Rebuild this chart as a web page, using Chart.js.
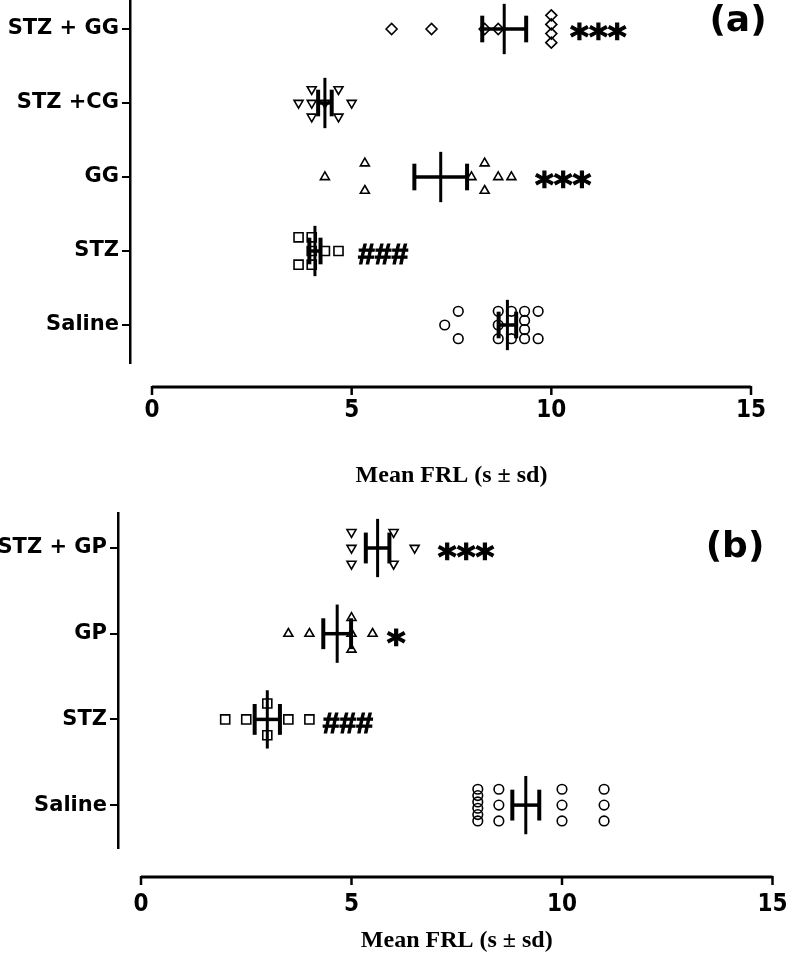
<!DOCTYPE html>
<html>
<head>
<meta charset="utf-8">
<script src="https://cdn.jsdelivr.net/npm/chart.js@4.4.1/dist/chart.umd.min.js"></script>
<style>
  html, body { margin: 0; padding: 0; background: #fff; }
  #wrap { position: relative; width: 788px; height: 959px; }
  .panel { position: absolute; left: 0; width: 788px; }
  #panelA { top: 0; height: 500px; }
  #panelB { top: 500px; height: 459px; }
</style>
</head>
<body>
<div id="wrap">
  <div class="panel" id="panelA"><canvas id="chartA"></canvas></div>
  <div class="panel" id="panelB"><canvas id="chartB"></canvas></div>
</div>
<script>
// ---- values (FRL in s) ----
const xTicks = [0, 5, 10, 15];

// panel (a), top to bottom
const catsA = ['STZ + GG', 'STZ +CG', 'GG', 'STZ', 'Saline'];
const stzGG = [6.0, 7.0, 8.33, 8.67, 10.0, 10.0, 10.0, 10.0];
const stzCG = [3.67, 4.0, 4.0, 4.0, 4.33, 4.67, 4.67, 5.0];
const ggA = [4.33, 5.33, 5.33, 8.0, 8.33, 8.33, 8.67, 9.0];
const stzA = [3.67, 3.67, 4.0, 4.0, 4.0, 4.33, 4.67];
const salineA = [7.33, 7.67, 7.67, 8.67, 8.67, 8.67, 9.0, 9.0, 9.33, 9.33, 9.33, 9.33, 9.67, 9.67];
const meansA = [8.82, 4.33, 7.23, 4.08, 8.9];
const errA = [0.55, 0.17, 0.66, 0.14, 0.22];
const marksA = ['***', '', '***', '###', ''];

// panel (b), top to bottom
const catsB = ['STZ + GP', 'GP', 'STZ', 'Saline'];
const stzGP = [5.0, 5.0, 5.0, 6.0, 6.0, 6.5];
const gpB = [3.5, 4.0, 5.0, 5.0, 5.0, 5.5];
const stzB = [2.0, 2.5, 3.0, 3.0, 3.5, 4.0];
const salineB = [8.0, 8.0, 8.0, 8.0, 8.0, 8.0, 8.5, 8.5, 8.5, 10.0, 10.0, 10.0, 11.0, 11.0, 11.0];
const meansB = [5.62, 4.66, 3.0, 9.14];
const errB = [0.28, 0.33, 0.3, 0.32];
const marksB = ['***', '*', '###', ''];

// spread equal values vertically around the category line
function spread(values, half) {
  const counts = {};
  values.forEach(v => { counts[v] = (counts[v] || 0) + 1; });
  const seen = {};
  return values.map(v => {
    const n = counts[v];
    const k = seen[v] = (seen[v] === undefined ? 0 : seen[v] + 1);
    return n === 1 ? 0 : -half + 2 * half * k / (n - 1);
  });
}

const panelDeco = {
  id: 'panelDeco',
  afterDatasetsDraw(chart, args, o) {
    const { ctx, scales: { x, y } } = chart;
    const line = (x1, y1, x2, y2) => { ctx.beginPath(); ctx.moveTo(x1, y1); ctx.lineTo(x2, y2); ctx.stroke(); };
    ctx.save();
    ctx.strokeStyle = '#000';
    // mean and error bars
    o.means.forEach((m, i) => {
      const xm = x.getPixelForValue(m);
      const xl = x.getPixelForValue(m - o.errs[i]);
      const xr = x.getPixelForValue(m + o.errs[i]);
      const yc = y.getPixelForValue(i);
      ctx.lineWidth = 3;
      line(xm, y.getPixelForValue(i - 0.34), xm, y.getPixelForValue(i + 0.34));
      ctx.lineWidth = 3.5;
      line(xl, yc, xr, yc);
      ctx.lineWidth = 4;
      line(xl, y.getPixelForValue(i - 0.18), xl, y.getPixelForValue(i + 0.18));
      line(xr, y.getPixelForValue(i - 0.18), xr, y.getPixelForValue(i + 0.18));
    });
    // significance marks
    ctx.fillStyle = '#000';
    ctx.lineWidth = 1.2;
    ctx.textAlign = 'left';
    ctx.textBaseline = 'alphabetic';
    o.marks.forEach((t, i) => {
      if (!t) return;
      ctx.font = t[0] === '#' ? 'bold 30px "Liberation Sans"' : 'bold 36px "DejaVu Sans"';
      const m = ctx.measureText(t);
      const px = x.getPixelForValue(o.markX[i]);
      const py = y.getPixelForValue(i + 0.04) + (m.actualBoundingBoxAscent - m.actualBoundingBoxDescent) / 2;
      ctx.fillText(t, px, py);
      ctx.strokeText(t, px, py);
    });
    ctx.restore();
  },
  afterDraw(chart, args, o) {
    const { ctx, chartArea, scales: { x } } = chart;
    ctx.save();
    ctx.strokeStyle = '#000';
    ctx.lineWidth = 3;
    const ya = chartArea.bottom + o.axisGap;
    ctx.beginPath();
    ctx.moveTo(x.getPixelForValue(xTicks[0]), ya);
    ctx.lineTo(x.getPixelForValue(xTicks[xTicks.length - 1]), ya);
    ctx.stroke();
    ctx.lineWidth = 2.5;
    xTicks.forEach(v => {
      const px = x.getPixelForValue(v);
      ctx.beginPath(); ctx.moveTo(px, ya - 1); ctx.lineTo(px, ya + 8); ctx.stroke();
    });
    ctx.fillStyle = '#000';
    ctx.textAlign = 'center';
    ctx.textBaseline = 'middle';
    ctx.font = 'bold 24px "Liberation Serif"';
    ctx.fillText('Mean FRL (s \u00b1 sd)', x.getPixelForValue(7.5), o.titleY);
    ctx.font = 'bold 36px "DejaVu Sans"';
    ctx.fillText(o.label, o.labelX, o.labelY);
    ctx.restore();
  }
};

function makePanel(id, p) {
  const xmin = -(p.x0Px - p.yAxisX) * 15 / (p.x15Px - p.x0Px);
  const ymin = (p.topPx - p.firstCatPx) / p.catStep;
  const ymax = (p.bottomPx - p.firstCatPx) / p.catStep;
  const datasets = p.groups.map((g, i) => {
    const off = spread(g, 0.185);
    return {
      data: g.map((v, j) => ({ x: v, y: i + off[j] })),
      pointStyle: p.styles[i][0],
      rotation: p.styles[i][1],
      pointRadius: p.styles[i][2],
      borderColor: '#000',
      backgroundColor: 'rgba(0,0,0,0)',
      borderWidth: 1.6
    };
  });
  return new Chart(document.getElementById(id), {
    type: 'scatter',
    data: { datasets },
    options: {
      responsive: true,
      maintainAspectRatio: false,
      animation: false,
      layout: { autoPadding: false, padding: { top: p.topPx, right: 788 - p.x15Px, left: 0, bottom: 0 } },
      plugins: {
        legend: { display: false },
        tooltip: { enabled: false },
        panelDeco: {
          means: p.means, errs: p.errs, marks: p.marks, markX: p.markX,
          axisGap: p.axisGap, titleY: p.titleY,
          label: p.label, labelX: p.labelX, labelY: p.labelY
        }
      },
      scales: {
        x: {
          type: 'linear', min: xmin, max: 15,
          afterBuildTicks: s => { s.ticks = xTicks.map(v => ({ value: v })); },
          afterFit: s => {
            s.height = p.height - p.bottomPx;
            s.paddingLeft = 0; s.paddingRight = 0; s.paddingTop = 0; s.paddingBottom = 0;
          },
          grid: { display: false, drawTicks: false },
          border: { display: false },
          ticks: {
            padding: p.tickPad, color: '#000', autoSkip: false, maxRotation: 0,
            font: { family: '"Liberation Sans Narrow", "DejaVu Sans Condensed", sans-serif', weight: 'bold', size: 24 }
          }
        },
        y: {
          type: 'linear', reverse: true, min: ymin, max: ymax,
          afterBuildTicks: s => { s.ticks = p.cats.map((c, i) => ({ value: i })); },
          afterFit: s => {
            s.width = p.yAxisX;
            s.paddingLeft = 0; s.paddingRight = 0; s.paddingTop = 0; s.paddingBottom = 0;
          },
          grid: { drawOnChartArea: false, drawTicks: true, tickLength: 8, color: '#000', lineWidth: 2 },
          border: { display: true, color: '#000', width: 2.5 },
          ticks: {
            autoSkip: false, padding: 3, color: '#000',
            callback: v => p.cats[v],
            font: { family: '"DejaVu Sans"', weight: 'bold', size: 21 }
          }
        }
      }
    },
    plugins: [panelDeco]
  });
}

makePanel('chartA', {
  cats: catsA,
  groups: [stzGG, stzCG, ggA, stzA, salineA],
  means: meansA, errs: errA, marks: marksA,
  markX: [10.47, 0, 9.59, 5.16, 0],
  styles: [['rectRot', 0, 5.5], ['triangle', 180, 5.2], ['triangle', 0, 5.2], ['rect', 0, 6.4], ['circle', 0, 4.8]],
  height: 500, yAxisX: 130, x0Px: 152, x15Px: 751,
  topPx: 0, bottomPx: 363, firstCatPx: 29, catStep: 74,
  axisGap: 24, tickPad: 33, titleY: 476,
  label: '(a)', labelX: 738, labelY: 22
});

makePanel('chartB', {
  cats: catsB,
  groups: [stzGP, gpB, stzB, salineB],
  means: meansB, errs: errB, marks: marksB,
  markX: [7.05, 5.84, 4.32, 0],
  styles: [['triangle', 180, 5.2], ['triangle', 0, 5.2], ['rect', 0, 6.4], ['circle', 0, 4.8]],
  height: 459, yAxisX: 118, x0Px: 141, x15Px: 772.5,
  topPx: 13, bottomPx: 348, firstCatPx: 48, catStep: 85.7,
  axisGap: 29, tickPad: 42, titleY: 441,
  label: '(b)', labelX: 735, labelY: 48
});
</script>
</body>
</html>
